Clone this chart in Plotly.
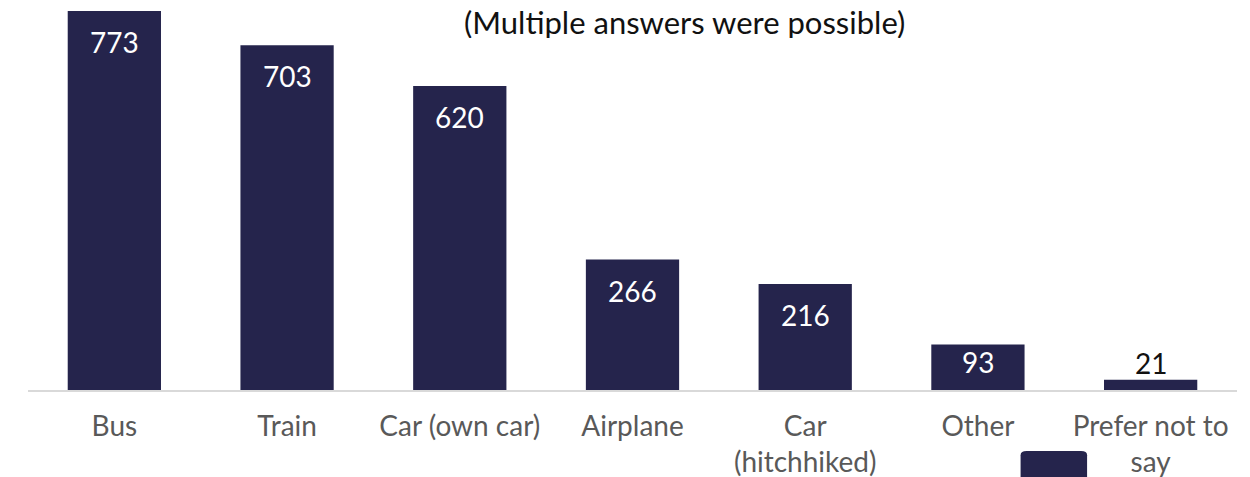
import plotly.graph_objects as go

categories = ["Bus", "Train", "Car (own car)", "Airplane", "Car<br>(hitchhiked)", "Other", "Prefer not to<br>say"]
values = [773, 703, 620, 266, 216, 93, 21]
title_text = "(Multiple answers were possible)"

BAR = "#25244C"
FONT = "Lato, 'Open Sans', sans-serif"
PLOT_H = 379  # px of plot area height
YMAX = 773

fig = go.Figure(go.Bar(
    x=categories, y=values, marker=dict(color=BAR, line=dict(width=0)),
    width=0.54, showlegend=False, hoverinfo="x+y",
))

for c, v in zip(categories, values):
    inside = v > 60
    hpx = v / YMAX * PLOT_H
    shift = max(-31, -(hpx / 2) + 5) if inside else 17
    fig.add_annotation(
        x=c, y=v, xref="x", yref="y", text=str(v), showarrow=False,
        yshift=shift,
        font=dict(family=FONT, size=28, color="white" if inside else "#111111"),
    )

fig.add_annotation(
    x=0.543, y=0.971, xref="paper", yref="paper", text=title_text, showarrow=False,
    yanchor="middle", height=32, valign="middle",
    font=dict(family=FONT, size=31, color="#111111"),
)

# partially visible legend swatch
fig.add_shape(
    type="path", xref="paper", yref="paper",
    path="M 0.821,-0.26 L 0.821,-0.172 Q 0.821,-0.161 0.826,-0.161 L 0.871,-0.161 Q 0.876,-0.161 0.876,-0.172 L 0.876,-0.26 Z",
    fillcolor=BAR, line=dict(width=0),
)

fig.update_layout(
    width=1250, height=477,
    margin=dict(l=20, r=21, t=3, b=95, autoexpand=False),
    paper_bgcolor="white", plot_bgcolor="white",
    font=dict(family=FONT, size=28, color="#595959"),
    xaxis=dict(showline=True, linecolor="#D9D9D9", linewidth=2, showgrid=False, automargin=False,
               ticks="", tickfont=dict(size=28, color="#595959"), ticklabelstandoff=10),
    yaxis=dict(visible=False, range=[0, YMAX], showgrid=False, automargin=False),
)

fig.write_html("out.html")
